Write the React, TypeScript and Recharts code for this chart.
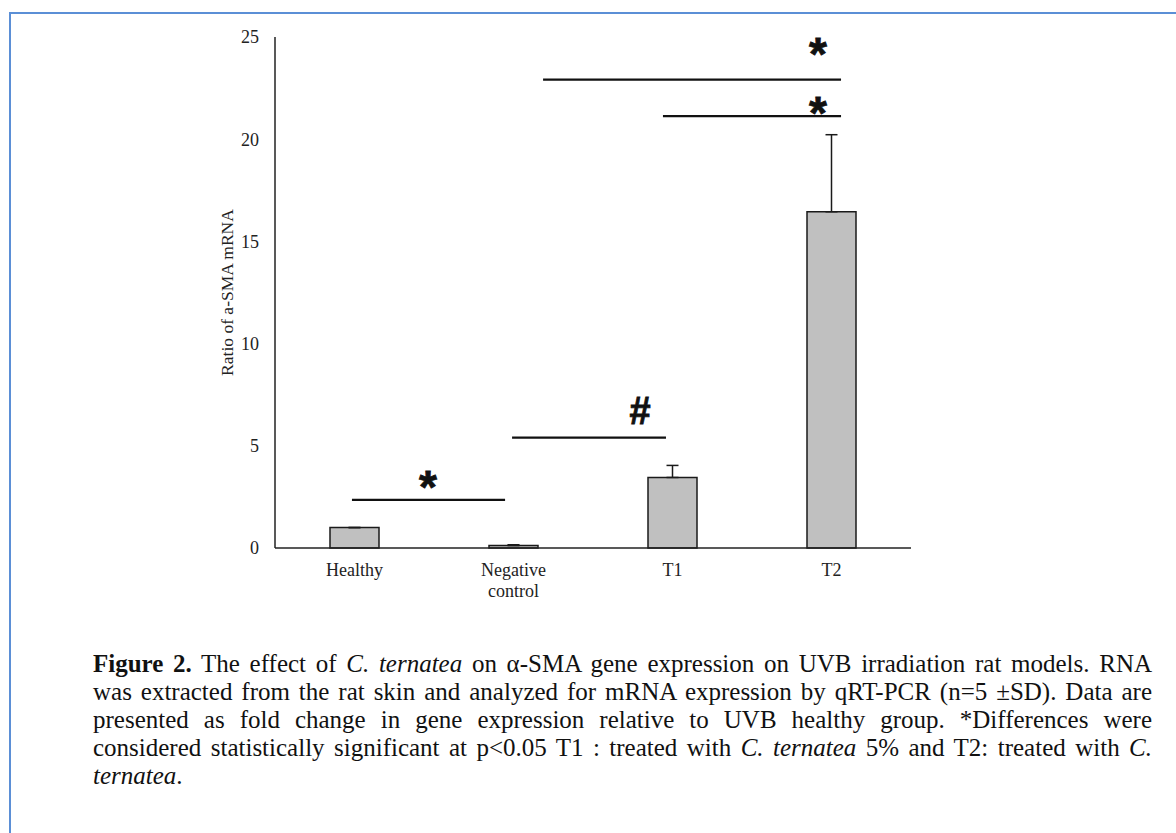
import React from "react";
import {
  BarChart,
  Bar,
  XAxis,
  YAxis,
  ErrorBar,
  ReferenceLine,
  ReferenceDot,
} from "recharts";

const groups = ["Healthy", "Negative control", "T1", "T2"];
const ratios = [1.0, 0.12, 3.45, 16.45];
const sdUp = [0, 0.04, 0.59, 3.77];
const yTicks = [0, 5, 10, 15, 20, 25];

// significance brackets, x in category units (0..4), y in data units
const brackets = [
  { x1: 0.484, x2: 1.447, y: 2.35 },
  { x1: 1.491, x2: 2.459, y: 5.4 },
  { x1: 1.686, x2: 3.56, y: 22.91 },
  { x1: 2.44, x2: 3.56, y: 21.13 },
];
const marks = [
  { x: 0.962, y: 3.45, sym: "*" },
  { x: 2.296, y: 6.75, sym: "#" },
  { x: 3.415, y: 24.63, sym: "*" },
  { x: 3.415, y: 21.75, sym: "*" },
];

const data = groups.map((g, i) => ({
  name: g,
  value: ratios[i],
  err: [0, sdUp[i]],
  pos: i + 0.5,
}));

const serif = "'Times New Roman', 'Liberation Serif', serif";

const CategoryTick = (props: any) => {
  const { x, y, payload } = props;
  const lines = String(payload.value) === "Negative control" ? ["Negative", "control"] : [payload.value];
  return (
    <text x={x} y={y + 28} textAnchor="middle" fontFamily={serif} fontSize={18} fill="#222">
      {lines.map((l: string, i: number) => (
        <tspan key={i} x={x} dy={i === 0 ? 0 : 21}>
          {l}
        </tspan>
      ))}
    </text>
  );
};

const markShape = (sym: string) => (p: any) => {
  const fs = sym === "#" ? 38 : 46;
  const shift = sym === "#" ? 0.36 : 0.55;
  return (
    <text
      x={p.cx}
      y={p.cy + fs * shift}
      textAnchor="middle"
      fontFamily="'Liberation Sans', Arial, sans-serif"
      fontWeight="bold"
      fontSize={fs}
      fill="#111"
      stroke="#111"
      strokeWidth={0.8}
    >
      {sym}
    </text>
  );
};

const lineStyle: React.CSSProperties = { textAlign: "justify", textAlignLast: "justify", whiteSpace: "nowrap" };
const tightLine: React.CSSProperties = { ...lineStyle, wordSpacing: -3 };

export default function App() {
  return (
    <div style={{ position: "fixed", left: 0, top: 0, width: 1176, height: 833, overflow: "hidden", background: "#fff" }}>
      <div
        style={{
          position: "absolute",
          left: 9,
          top: 12,
          width: 1300,
          height: 900,
          borderTop: "2px solid #5b8fd6",
          borderLeft: "2px solid #5b8fd6",
        }}
      />
      <div style={{ position: "absolute", left: 0, top: 0 }}>
        <BarChart
          width={1176}
          height={620}
          data={data}
          margin={{ top: 37, right: 265, left: 215, bottom: 22 }}
        >
          <XAxis
            dataKey="name"
            height={50}
            axisLine={{ stroke: "#222", strokeWidth: 1.5 }}
            tickLine={false}
            tickSize={0}
            tickMargin={0}
            interval={0}
            tick={<CategoryTick />}
          />
          <XAxis xAxisId="pos" dataKey="pos" type="number" domain={[0, 4]} allowDataOverflow hide />
          <YAxis
            width={60}
            domain={[0, 25]}
            ticks={yTicks}
            interval={0}
            axisLine={{ stroke: "#222", strokeWidth: 1.5 }}
            tickLine={false}
            tickSize={0}
            tickMargin={16}
            tick={{ fontFamily: serif, fontSize: 18, fill: "#222" }}
            label={{
              content: (p: any) => {
                const vb = p.viewBox;
                const cx = vb.x + 12;
                const cy = vb.y + vb.height / 2;
                return (
                  <text
                    x={cx}
                    y={cy}
                    transform={`rotate(-90, ${cx}, ${cy})`}
                    textAnchor="middle"
                    dominantBaseline="central"
                    fontFamily={serif}
                    fontSize={17.5}
                    fill="#222"
                  >
                    Ratio of a-SMA mRNA
                  </text>
                );
              },
            }}
          />
          <Bar dataKey="value" barSize={49} fill="#c0c0c0" stroke="#1a1a1a" strokeWidth={1.5} isAnimationActive={false}>
            <ErrorBar dataKey="err" direction="y" width={6} stroke="#1a1a1a" strokeWidth={1.5} isAnimationActive={false} />
          </Bar>
          {brackets.map((b, i) => (
            <ReferenceLine
              key={"b" + i}
              xAxisId="pos"
              segment={[
                { x: b.x1, y: b.y },
                { x: b.x2, y: b.y },
              ]}
              stroke="#111"
              strokeWidth={2.2}
            />
          ))}
          {marks.map((m, i) => (
            <ReferenceDot key={"m" + i} xAxisId="pos" x={m.x} y={m.y} r={0} shape={markShape(m.sym)} />
          ))}
        </BarChart>
      </div>
      <div
        style={{
          position: "absolute",
          left: 93,
          top: 650,
          width: 1059,
          fontFamily: serif,
          fontSize: 25,
          lineHeight: "28px",
          color: "#111",
        }}
      >
        <div style={lineStyle}>
          <b>Figure 2.</b> The effect of <i>C. ternatea</i> on α-SMA gene expression on UVB irradiation rat models. RNA
        </div>
        <div style={tightLine}>
          was extracted from the rat skin and analyzed for mRNA expression by qRT-PCR (n=5 ±SD). Data are
        </div>
        <div style={lineStyle}>
          presented as fold change in gene expression relative to UVB healthy group. *Differences were
        </div>
        <div style={tightLine}>
          considered statistically significant at p&lt;0.05 T1 : treated with <i>C. ternatea</i> 5% and T2: treated with <i>C.</i>
        </div>
        <div>
          <i>ternatea</i>.
        </div>
      </div>
    </div>
  );
}
